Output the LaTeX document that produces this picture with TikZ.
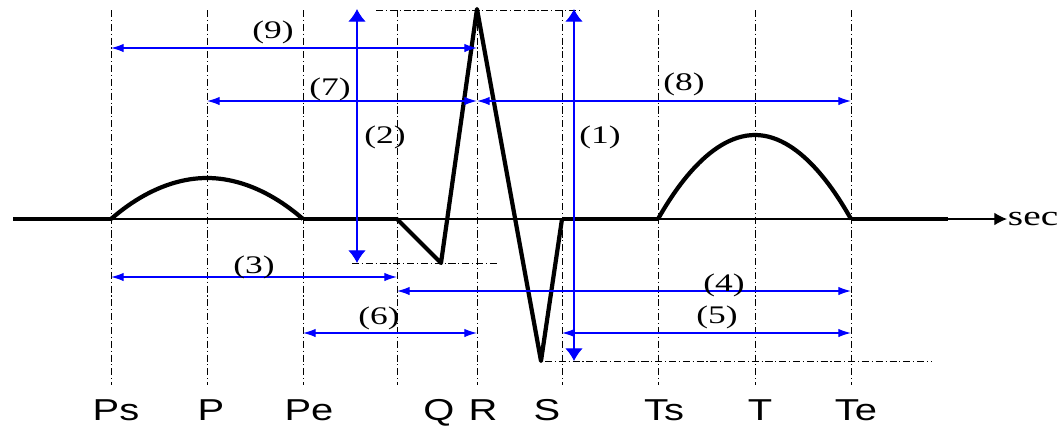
\documentclass[tikz,border=0pt]{standalone}
\usepackage{fontspec}
\setmainfont[FakeStretch=1.4]{Liberation Serif}
\newfontfamily\arialfont[FakeStretch=1.32]{Liberation Sans}
\usetikzlibrary{arrows.meta}
\begin{document}
\begin{tikzpicture}[x=0.025cm,y=-0.025cm,
    guide/.style={line width=0.6pt,dash pattern=on 5pt off 2pt on 0.8pt off 2pt},
    wave/.style={line width=3pt,line join=round},
    dim/.style={blue,line width=0.9pt,{Latex[length=9pt,width=6pt]}-{Latex[length=9pt,width=6pt]}},
    vdim/.style={blue,line width=0.9pt,{Latex[length=9pt,width=12.5pt]}-{Latex[length=9pt,width=12.5pt]}},
    num/.style={font=\fontsize{18}{18}\selectfont},
    lbl/.style={anchor=base,font=\arialfont\fontsize{21.5}{22}\selectfont}]
  \useasboundingbox (0,0) rectangle (1060,429);
  % marks on the time axis
  \coordinate (Ps) at (111,219); \coordinate (P) at (207,219);
  \coordinate (Pe) at (303,219); \coordinate (Q) at (397,219);
  \coordinate (R) at (477,219); \coordinate (S) at (562,219);
  \coordinate (Ts) at (658,219); \coordinate (T) at (755,219);
  \coordinate (Te) at (851,219);
  \coordinate (Ppk) at (207,178); \coordinate (Tpk) at (755,135);
  \coordinate (Qpk) at (441,263); \coordinate (Rpk) at (477,9);
  \coordinate (Spk) at (541,361);
  \coordinate (start) at (13,219); \coordinate (stop) at (948,219);
  \coordinate (tip) at (1007,219);
  % levels of the dimension lines
  \coordinate (h9) at (0,48); \coordinate (h7) at (0,101);
  \coordinate (h3) at (0,277); \coordinate (h4) at (0,291);
  \coordinate (h5) at (0,333);
  \coordinate (v2) at (357,0); \coordinate (v1) at (574,0);
  \foreach \m in {Ps,P,Pe,Q,R,S,Ts,T,Te}
    \draw[guide] (\m |- 0,10) -- (\m |- 0,385);
  \draw[guide] (376,10) -- (582,10);
  \draw[guide] (352,263) -- (498,263);
  \draw[guide] (545,361) -- (932,361);
  % signal
  \draw[line width=0.8pt,-{Latex[length=9pt,width=9pt]}] (start) -- (tip);
  \node[right,inner sep=0.5pt,font=\fontsize{20}{20}\selectfont] (sec) at (tip) {sec};
  \draw[wave] (start) -- (Ps); \draw[wave] (Pe) -- (Q);
  \draw[wave] (S) -- (Ts); \draw[wave] (Te) -- (stop);
  \draw[wave] (Ps) parabola bend (Ppk) (Pe);
  \draw[wave] (Ts) parabola bend (Tpk) (Te);
  \draw[wave] (Q) -- (Qpk) -- (Rpk) -- (Spk) -- (S);
  % intervals
  \draw[dim] (Ps |- h9) -- (R |- h9);
  \draw[dim] (P |- h7) -- (R |- h7);
  \draw[dim] (R |- h7) -- (Te |- h7);
  \draw[dim] (Ps |- h3) -- (Q |- h3);
  \draw[dim] (Q |- h4) -- (Te |- h4);
  \draw[dim] (S |- h5) -- (Te |- h5);
  \draw[dim] (Pe |- h5) -- (R |- h5);
  \draw[vdim] (v2 |- Rpk) -- (v2 |- Qpk);
  \draw[vdim] (v1 |- Rpk) -- (v1 |- Spk);
  \node[num] (n9) at (273,32) {(9)}; \node[num] (n7) at (330,89) {(7)};
  \node[num] (n8) at (684,84) {(8)}; \node[num] (n2) at (385,137) {(2)};
  \node[num] (n1) at (600,137) {(1)}; \node[num] (n3) at (254,267) {(3)};
  \node[num] (n4) at (724,285) {(4)}; \node[num] (n5) at (717,317) {(5)};
  \node[num] (n6) at (379,318) {(6)};
  % wave names
  \node[lbl] (lPs) at (116,420) {Ps}; \node[lbl] (lP) at (211,420) {P};
  \node[lbl] (lPe) at (309,420) {Pe}; \node[lbl] (lQ) at (439,420) {Q};
  \node[lbl] (lR) at (483,420) {R}; \node[lbl] (lS) at (547,420) {S};
  \node[lbl] (lTs) at (664,420) {Ts}; \node[lbl] (lT) at (760,420) {T};
  \node[lbl] (lTe) at (856,420) {Te};
\end{tikzpicture}
\end{document}
